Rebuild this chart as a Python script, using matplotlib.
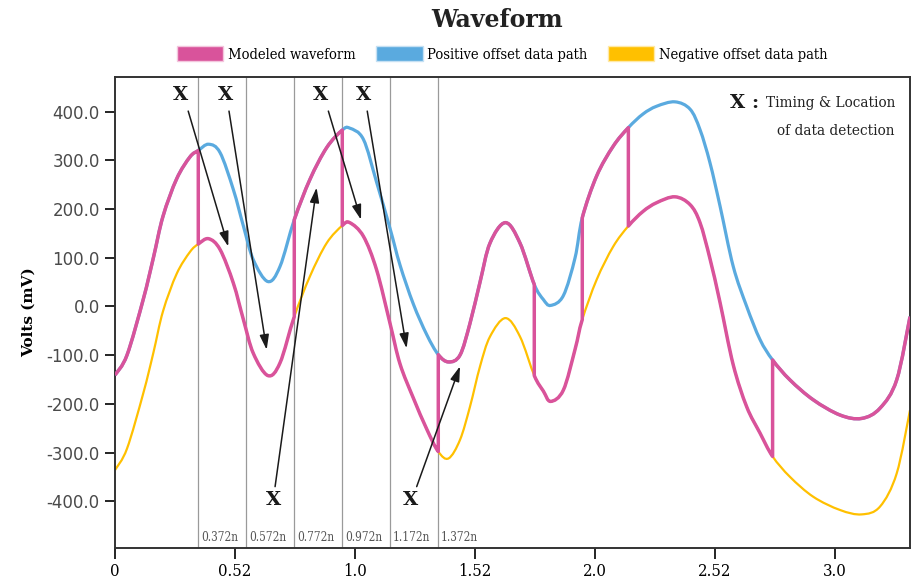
import numpy as np
import matplotlib
matplotlib.use("Agg")
import matplotlib.pyplot as plt
from matplotlib.patches import Patch, PathPatch
from matplotlib.path import Path

# time (ns) and the two offset data paths (mV)
t = [0, 0.05, 0.118, 0.16, 0.2, 0.257, 0.3125, 0.347, 0.39, 0.4375,
     0.493, 0.535, 0.576, 0.637, 0.6875, 0.747, 0.8125, 0.882, 0.947, 0.978,
     1.035, 1.09, 1.146, 1.1875, 1.243, 1.299, 1.347, 1.39, 1.4375, 1.479,
     1.521, 1.5625, 1.627, 1.6875, 1.747, 1.785, 1.815, 1.868, 1.917, 1.947,
     2.007, 2.076, 2.139, 2.2, 2.257, 2.333, 2.396, 2.4375, 2.479, 2.521,
     2.576, 2.632, 2.6875, 2.74, 2.8125, 2.91, 3.021, 3.111, 3.1875, 3.257,
     3.3125]
positive_path = [-141, -100, 15, 100, 185, 262, 307, 320, 333, 316,
                 240, 165, 96, 51, 82, 178, 261, 326, 362, 366,
                 343, 255, 160, 85, 5, -58, -99, -114, -100, -35,
                 50, 130, 172, 130, 45, 14, 2, 22, 100, 182,
                 268, 329, 367, 395, 411, 420, 405, 363, 295, 206,
                 82, 0, -68, -110, -151, -192, -223, -230, -209, -151,
                 -21]
negative_path = [-336, -292, -178, -95, -10, 67, 112, 128, 139, 117,
                 48, -27, -96, -142, -116, -21, 62, 130, 166, 172,
                 144, 75, -35, -118, -188, -252, -298, -312, -274, -206,
                 -123, -62, -24, -62, -142, -174, -195, -172, -88, -27,
                 55, 123, 165, 195, 213, 225, 209, 172, 98, 8,
                 -120, -206, -260, -308, -350, -391, -418, -427, -411, -343,
                 -213]

# modeled waveform jumps between the two paths at these times
switch_times = [0.347, 0.747, 0.947, 1.347, 1.747, 1.947, 2.139, 2.74]
path_order = ["pos", "neg", "pos", "neg", "pos", "neg", "pos", "neg", "pos"]

# detection instants (grey lines)
sample_times = [0.347, 0.547, 0.747, 0.947, 1.147, 1.347]
sample_labels = ["0.372n", "0.572n", "0.772n", "0.972n", "1.172n", "1.372n"]

x_ticks = [0, 0.5, 1.0, 1.5, 2.0, 2.5, 3.0]
x_tick_labels = ["0", "0.52", "1.0", "1.52", "2.0", "2.52", "3.0"]
y_ticks = [400, 300, 200, 100, 0, -100, -200, -300, -400]

PINK = "#D9539B"
BLUE = "#5AAADF"
YELLOW = "#FFC000"
SERIF = "DejaVu Serif"

t = np.array(t, dtype=float)
series = {"pos": np.array(positive_path, dtype=float),
          "neg": np.array(negative_path, dtype=float)}


def bezier_ctrl(y):
    # cubic bezier handles so the drawn line passes smoothly through the points
    p = np.column_stack([t, y])
    pad = np.vstack([p[0], p, p[-1]])
    c1 = p[:-1] + (pad[2:-1] - pad[:-3]) / 6.0
    c2 = p[1:] - (pad[3:] - pad[1:-2]) / 6.0
    return p, c1, c2


def curve_path(pieces):
    # pieces: list of (series key, first index, last index); joined with straight jumps
    verts, codes = [], []
    for key, i0, i1 in pieces:
        p, c1, c2 = bezier_ctrl(series[key])
        verts.append(p[i0])
        codes.append(Path.MOVETO if not verts[:-1] else Path.LINETO)
        for i in range(i0, i1):
            verts += [c1[i], c2[i], p[i + 1]]
            codes += [Path.CURVE4] * 3
    return Path(verts, codes)


fig = plt.figure(figsize=(9.12, 5.83), dpi=100)
ax = fig.add_axes([115 / 912, 35 / 583, 795 / 912, 471 / 583])

for st in sample_times:
    ax.axvline(st, color="#9a9a9a", lw=0.9, zorder=1)
for st, lab in zip(sample_times, sample_labels):
    ax.annotate(lab, xy=(st, 0), xycoords=("data", "axes fraction"),
                xytext=(2, 3), textcoords="offset points",
                fontsize=8.5, family=SERIF, fontstretch="condensed",
                color="#555555", va="bottom", ha="left")

last = len(t) - 1
ax.add_patch(PathPatch(curve_path([("neg", 0, last)]), fill=False,
                       edgecolor=YELLOW, lw=1.6, zorder=2))
ax.add_patch(PathPatch(curve_path([("pos", 0, last)]), fill=False,
                       edgecolor=BLUE, lw=2.3, zorder=3))

edges = [0] + [int(np.argmin(np.abs(t - s))) for s in switch_times] + [last]
pieces = [(key, edges[i], edges[i + 1]) for i, key in enumerate(path_order)]
ax.add_patch(PathPatch(curve_path(pieces), fill=False, edgecolor=PINK,
                       lw=2.5, zorder=4, joinstyle="round"))

# X markers and arrows (label pos, arrow tail, arrow head)
markers = [
    ((0.275, 434), (0.305, 401), (0.472, 123)),
    ((0.4625, 434), (0.475, 401), (0.632, -89)),
    ((0.858, 434), (0.889, 401), (1.025, 178)),
    ((1.0375, 434), (1.051, 401), (1.215, -86)),
    ((0.6625, -398), (0.667, -370), (0.840, 244)),
    ((1.233, -398), (1.257, -370), (1.4375, -123)),
]
for (lx, ly), tail, head in markers:
    ax.text(lx, ly, "X", fontsize=14, fontweight="black", family=SERIF,
            ha="center", va="center", color="#1a1a1a", zorder=6)
    ax.annotate("", xy=head, xytext=tail,
                arrowprops=dict(arrowstyle="-|>,head_length=0.9,head_width=0.28",
                                color="#1a1a1a", lw=1.1, shrinkA=0, shrinkB=0),
                zorder=6)

note = ax.text(0.981, 0.945, "Timing & Location", transform=ax.transAxes,
               ha="right", va="center", fontsize=11, family=SERIF,
               fontstretch="condensed", color="#222222")
ax.annotate("X : ", xy=(0, 0.5), xycoords=note, ha="right", va="center",
            fontsize=14, fontweight="black", family=SERIF, color="#1a1a1a")
ax.text(0.981, 0.885, "of data detection", transform=ax.transAxes,
        ha="right", va="center", fontsize=11, family=SERIF,
        fontstretch="condensed", color="#222222")

ax.set_xlim(0, 3.3125)
ax.set_ylim(-496, 471)
ax.set_xticks(x_ticks)
ax.set_xticklabels(x_tick_labels, family=SERIF, fontstretch="condensed", fontsize=12)
ax.set_yticks(y_ticks)
ax.set_yticklabels([f"{v:.1f}" for v in y_ticks], fontsize=12, color="#4a4a4a")
ax.tick_params(axis="x", length=8, width=1.2, pad=3)
ax.tick_params(axis="y", length=7, width=1.2, pad=4)
for sp in ax.spines.values():
    sp.set_linewidth(1.4)
    sp.set_color("#333333")
ax.set_ylabel("Volts (mV)", family=SERIF, fontweight="bold", fontsize=11, labelpad=8)

fig.text(497 / 912, 1 - 20 / 583, "Waveform", ha="center", va="center",
         fontsize=17, fontweight="black", family=SERIF, color="#222222")

handles = [Patch(facecolor=PINK, edgecolor="#f3c6dd", label="Modeled waveform"),
           Patch(facecolor=BLUE, edgecolor="#c5e0f3", label="Positive offset data path"),
           Patch(facecolor=YELLOW, edgecolor="#ffe9a6", label="Negative offset data path")]
fig.legend(handles=handles, loc="center", bbox_to_anchor=(502 / 912, 1 - 54 / 583),
           ncol=3, frameon=False, handlelength=3.2, handleheight=1.15,
           handletextpad=0.3, columnspacing=1.4,
           prop=dict(family=SERIF, stretch="condensed", size=10.5))

fig.savefig("out.png", dpi=100)
